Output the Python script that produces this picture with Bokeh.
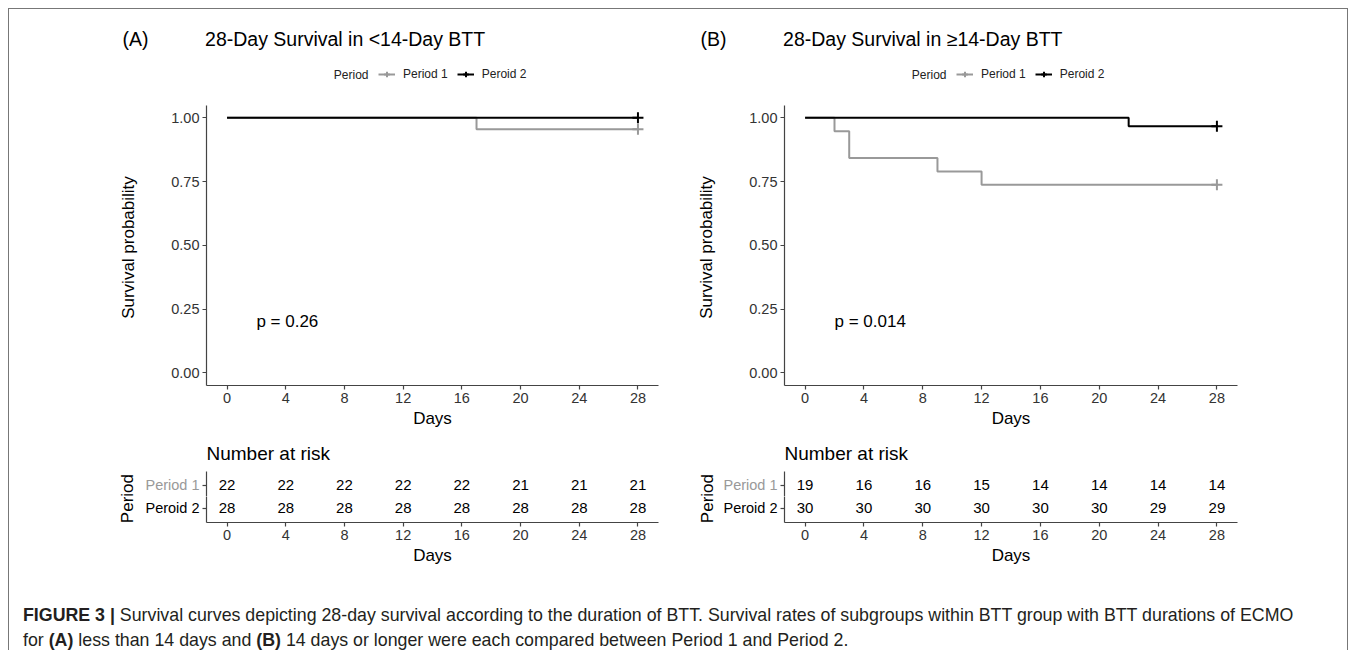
from bokeh.plotting import figure
from bokeh.models import (Range1d, FixedTicker, Label, Legend, LegendItem,
                          ColumnDataSource, Div, Title)
from bokeh.layouts import column, row
from bokeh.embed import file_html
from bokeh.resources import INLINE
from bokeh.core.properties import value

FONT = "Liberation Sans"

# ---------------- data ----------------
day_ticks = [0, 4, 8, 12, 16, 20, 24, 28]
surv_ticks = [0.0, 0.25, 0.5, 0.75, 1.0]
surv_tick_labels = ["0.00", "0.25", "0.50", "0.75", "1.00"]

group_names = ["Period 1", "Peroid 2"]
group_colors = ["#999999", "#000000"]
group_rows = [2, 1]

# Panel A: <14-day BTT
a_title = "28-Day Survival in <14-Day BTT"
a_tag = "(A)"
a_p1_time = [0, 17, 28]
a_p1_surv = [1.0, 0.955, 0.955]
a_p2_time = [0, 28]
a_p2_surv = [1.0, 1.0]
a_risk_p1 = [22, 22, 22, 22, 22, 21, 21, 21]
a_risk_p2 = [28, 28, 28, 28, 28, 28, 28, 28]
a_pval = "p = 0.26"

# Panel B: >=14-day BTT
b_title = "28-Day Survival in \u226514-Day BTT"
b_tag = "(B)"
b_p1_time = [0, 2, 3, 9, 12, 28]
b_p1_surv = [1.0, 0.947, 0.842, 0.789, 0.737, 0.737]
b_p2_time = [0, 22, 28]
b_p2_surv = [1.0, 0.967, 0.967]
b_risk_p1 = [19, 16, 16, 15, 14, 14, 14, 14]
b_risk_p2 = [30, 30, 30, 30, 30, 30, 29, 29]
b_pval = "p = 0.014"

pval_pos = (2, 0.2)

caption_html = ("<b>FIGURE 3 |</b> Survival curves depicting 28-day survival according to the "
                "duration of BTT. Survival rates of subgroups within BTT group with BTT durations of ECMO"
                "<br>for <b>(A)</b> less than 14 days and <b>(B)</b> 14 days or longer were each "
                "compared between Period 1 and Period 2.")

AXIS_COLOR = "#444444"
TICK_TEXT = "#333333"
GAP = "\u2003\u2003\u2002\u2009\u2009"
YLAB_PAD = "\u2003\u2003\u2003"


def style_axis(ax, label, standoff):
    ax.axis_label = label
    ax.axis_label_text_font = FONT
    ax.axis_label_text_font_size = "17px"
    ax.axis_label_text_font_style = "normal"
    ax.axis_label_text_color = "#000000"
    ax.axis_label_standoff = standoff
    ax.major_label_text_font = FONT
    ax.major_label_text_font_size = "14.5px"
    ax.major_label_text_color = TICK_TEXT
    ax.major_label_standoff = 3
    ax.axis_line_color = AXIS_COLOR
    ax.axis_line_width = 1.2
    ax.major_tick_line_color = AXIS_COLOR
    ax.major_tick_line_width = 1.2
    ax.major_tick_in = 0
    ax.major_tick_out = 4
    ax.minor_tick_line_color = None


def base_fig(width, height, y_range, mbl, mbr, mbt, mbb):
    f = figure(width=width, height=height, x_range=Range1d(-1.4, 29.4),
               y_range=y_range, output_backend="svg", toolbar_location=None,
               min_border_left=mbl, min_border_right=mbr,
               min_border_top=mbt, min_border_bottom=mbb)
    f.xgrid.visible = False
    f.ygrid.visible = False
    f.outline_line_color = None
    return f


def make_km(width, mbl, mbr, tag, title, curves, pval):
    # frame extends above the 0..1 scale to hold the legend
    p = base_fig(width, 424, Range1d(-0.05, 1.2324), mbl, mbr, 49, 48)

    items = []
    for name, color, t, s in curves:
        r1 = p.step(t, s, mode="after", line_color=color, line_width=2)
        r2 = p.scatter([t[-1]], [s[-1]], marker="cross", size=11,
                       line_color=color, line_width=2)
        items.append(LegendItem(label=name, renderers=[r1, r2]))
    legend = Legend(items=items, orientation="horizontal", location=(172, 304))
    legend.label_text_font = FONT
    legend.label_text_font_size = "12px"
    legend.label_text_color = "#222222"
    legend.label_height = 14
    legend.glyph_width = 17
    legend.glyph_height = 14
    legend.label_standoff = 8
    legend.spacing = 9
    legend.padding = 0
    legend.margin = 0
    legend.border_line_color = None
    legend.background_fill_alpha = 0
    p.add_layout(legend)

    p.add_layout(Label(x=162, y=311, x_units="screen", y_units="screen",
                       text="Period", text_font=FONT, text_font_size="12px",
                       text_color="#222222", text_baseline="middle", text_align="right"))

    p.xaxis.ticker = FixedTicker(ticks=day_ticks)
    p.yaxis.ticker = FixedTicker(ticks=surv_ticks)
    p.yaxis.major_label_overrides = dict(zip(surv_ticks, surv_tick_labels))
    p.yaxis.bounds = (-0.05, 1.05)
    style_axis(p.xaxis[0], "Days", 3)
    style_axis(p.yaxis[0], "Survival probability" + YLAB_PAD, 30)

    p.add_layout(Title(text=tag + GAP + title, align="left", offset=-84,
                       text_font=FONT, text_font_size="19.5px",
                       text_font_style="normal", text_color="#000000",
                       standoff=17), "above")
    p.add_layout(Label(x=pval_pos[0], y=pval_pos[1], text=pval, text_font=FONT,
                       text_font_size="17px", text_color="#000000",
                       text_baseline="middle", text_align="left"))
    return p


def make_risk_row(width, mbl, mbr, idx, vals, is_top):
    row_y = group_rows[idx]
    yr = Range1d(1.5, 2.6) if is_top else Range1d(0.4, 1.5)
    if is_top:
        f = base_fig(width, 63, yr, mbl, mbr, 37, 0)
    else:
        f = base_fig(width, 74, yr, mbl, mbr, 0, 48)
    src = ColumnDataSource(dict(x=day_ticks, y=[row_y] * len(vals),
                                t=[str(v) for v in vals]))
    f.text(x="x", y="y", text="t", source=src, text_align="center",
           text_baseline="middle", text_font=value(FONT), text_font_size="15px",
           text_color="#000000")
    f.xaxis.ticker = FixedTicker(ticks=day_ticks)
    f.yaxis.ticker = FixedTicker(ticks=[row_y])
    f.yaxis.major_label_overrides = {row_y: group_names[idx]}
    style_axis(f.xaxis[0], "Days", 3)
    style_axis(f.yaxis[0], None, 0)
    f.yaxis.major_label_text_color = group_colors[idx]
    if is_top:
        f.xaxis.visible = False
        f.add_layout(Title(text="Number at risk", align="left", offset=0,
                           text_font=FONT, text_font_size="19px",
                           text_font_style="normal", text_color="#000000",
                           standoff=15), "above")
    return f


def period_div(width, left):
    html = ('<div style="writing-mode:vertical-rl;transform:rotate(180deg);'
            'margin-left:%dpx;margin-top:41px;font-family:\'Liberation Sans\';'
            'font-size:17px;line-height:20px;color:#000000">Period</div>' % left)
    return Div(text=html, width=width, height=137, margin=0)


curves_a = [(group_names[0], group_colors[0], a_p1_time, a_p1_surv),
            (group_names[1], group_colors[1], a_p2_time, a_p2_surv)]
curves_b = [(group_names[0], group_colors[0], b_p1_time, b_p1_surv),
            (group_names[1], group_colors[1], b_p2_time, b_p2_surv)]

km_a = make_km(681, 197, 32, a_tag, a_title, curves_a, a_pval)
km_b = make_km(657, 94, 110, b_tag, b_title, curves_b, b_pval)

risk_a = column(make_risk_row(550, 66, 32, 0, a_risk_p1, True),
                make_risk_row(550, 66, 32, 1, a_risk_p2, False))
risk_b = column(make_risk_row(627, 64, 110, 0, b_risk_p1, True),
                make_risk_row(627, 64, 110, 1, b_risk_p2, False))

col_a = column(km_a, row(period_div(131, 109), risk_a))
col_b = column(km_b, row(period_div(30, 8), risk_b))

cap = Div(text=caption_html, width=1338, height=80, margin=0,
          styles={"font-family": FONT, "font-size": "17.8px", "line-height": "25px",
                  "padding-left": "14px", "padding-top": "33px", "color": "#231f20"})

layout = column(row(col_a, col_b), cap,
                styles={"border-left": "1px solid #777777",
                        "border-top": "1px solid #777777",
                        "border-right": "1px solid #777777",
                        "margin-left": "8px", "margin-top": "8px"})

open("out.html", "w").write(file_html(layout, INLINE))
